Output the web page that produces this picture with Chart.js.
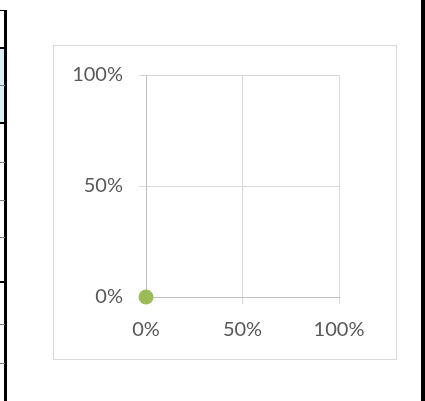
<!DOCTYPE html>
<html>
<head>
<meta charset="utf-8">
<script src="https://cdn.jsdelivr.net/npm/chart.js@4.4.1/dist/chart.umd.min.js"></script>
<style>
  html, body { margin: 0; padding: 0; background: #fff; }
  #wrap { position: relative; width: 425px; height: 401px; overflow: hidden; }
  .ln { position: absolute; background: #000; }
  .thin { position: absolute; background: #7f7f7f; }
  #box { position: absolute; left: 53px; top: 45px; width: 342px; height: 313px; border: 1px solid #d9d9d9; }
  #chart { position: absolute; left: 0; top: 0; }
</style>
</head>
<body>
<div id="wrap">
  <!-- sheet cells at the left and right edges -->
  <div style="position:absolute;left:0;top:48px;width:4px;height:75px;background:#dbeef3"></div>
  <div class="ln" style="left:4px;top:10px;width:3px;height:391px"></div>
  <div class="ln" style="left:0;top:10px;width:6px;height:1px"></div>
  <div class="ln" style="left:0;top:47px;width:6px;height:2px"></div>
  <div class="thin" style="left:0;top:85px;width:5px;height:1px"></div>
  <div class="ln" style="left:0;top:122px;width:6px;height:2px"></div>
  <div class="thin" style="left:0;top:162px;width:5px;height:1px"></div>
  <div class="thin" style="left:0;top:200px;width:5px;height:1px"></div>
  <div class="thin" style="left:0;top:237px;width:5px;height:1px"></div>
  <div class="ln" style="left:0;top:281px;width:6px;height:2px"></div>
  <div class="thin" style="left:0;top:324px;width:5px;height:1px"></div>
  <div class="thin" style="left:0;top:363px;width:5px;height:1px"></div>
  <div class="ln" style="left:421px;top:0;width:4px;height:401px"></div>

  <div id="box"></div>
  <canvas id="chart" width="425" height="401"></canvas>
</div>
<script>
// percent values, stored as fractions
const xValues = [0];
const yValues = [0];
const tickMin = 0;
const tickMax = 1;
const tickStep = 0.5;

const points = xValues.map((x, i) => ({ x: x, y: yValues[i] }));

const gridColor = '#d9d9d9';
const axisColor = '#bfbfbf';
const labelFont = { family: 'Lato, "Open Sans", sans-serif', size: 20 };

function pct(v) {
  return Math.round(v * 100) + '%';
}

const ctx = document.getElementById('chart').getContext('2d');
new Chart(ctx, {
  type: 'scatter',
  data: {
    datasets: [{
      data: points,
      backgroundColor: '#9bbb59',
      borderColor: '#9bbb59',
      borderWidth: 0,
      pointRadius: 7.5,
      pointHoverRadius: 7.5,
      clip: false,
    }],
  },
  options: {
    responsive: false,
    animation: false,
    layout: {
      padding: { top: 75, right: 86, bottom: 0, left: 0 },
    },
    plugins: {
      legend: { display: false },
      tooltip: { enabled: false },
    },
    scales: {
      x: {
        type: 'linear',
        min: tickMin,
        max: tickMax,
        afterFit: (scale) => { scale.height = 104; },
        ticks: {
          stepSize: tickStep,
          callback: pct,
          color: '#595959',
          font: labelFont,
          padding: 14,
          maxRotation: 0,
        },
        grid: { color: gridColor, tickLength: 7, lineWidth: 1 },
        border: { color: axisColor, width: 1 },
      },
      y: {
        type: 'linear',
        min: tickMin,
        max: tickMax,
        afterFit: (scale) => { scale.width = 146; },
        ticks: {
          stepSize: tickStep,
          callback: pct,
          color: '#595959',
          font: labelFont,
          padding: 16,
        },
        grid: { color: gridColor, tickLength: 7, lineWidth: 1 },
        border: { color: axisColor, width: 1 },
      },
    },
  },
});
</script>
</body>
</html>
